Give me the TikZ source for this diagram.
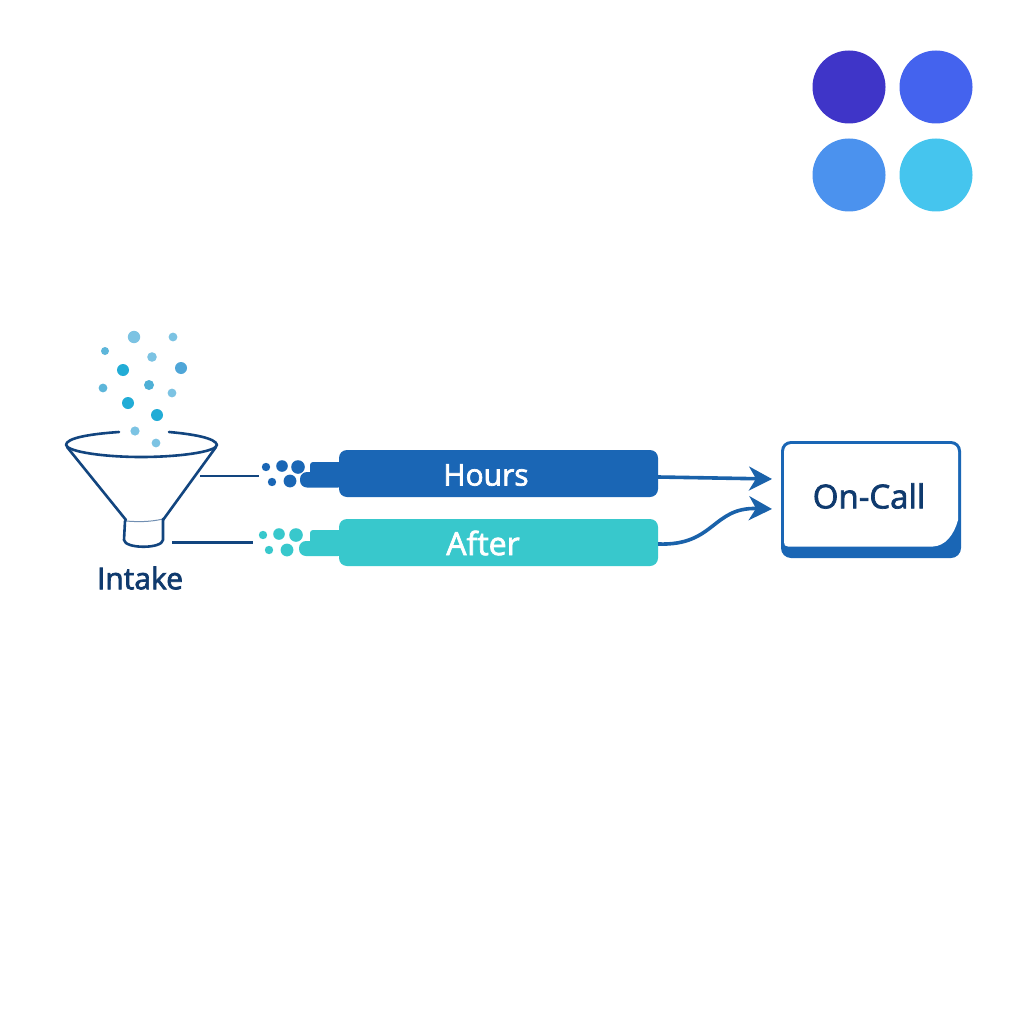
\documentclass[tikz,border=0pt]{standalone}
\usepackage{fontspec}
\setmainfont{Open Sans}
\newcommand{\medw}[1]{\special{pdf:code 2 Tr 0.7 w}#1\special{pdf:code 0 Tr}}
\usetikzlibrary{arrows.meta}
\definecolor{navy}{HTML}{12457F}
\definecolor{inknavy}{HTML}{0F3A6E}
\definecolor{barblue}{HTML}{1A66B5}
\definecolor{barteal}{HTML}{38C8CC}
\definecolor{arrowblue}{HTML}{1A62AA}
\definecolor{swA}{HTML}{3F35C8}
\definecolor{swB}{HTML}{4463EE}
\definecolor{swC}{HTML}{4B92EE}
\definecolor{swD}{HTML}{45C5EE}
\definecolor{dotA}{HTML}{7CC3E3}
\definecolor{dotB}{HTML}{22ACD6}
\definecolor{dotC}{HTML}{4FA6D8}
\definecolor{dotD}{HTML}{4FB0D6}
\tikzset{
  swatch/.style={circle,minimum size=73pt,inner sep=0pt,fill=#1},
  funnelline/.style={draw=navy,line width=2.6pt,line join=round,line cap=round},
  lead/.style={draw=navy,line width=2.4pt},
  barbox/.style={rounded corners=8pt,minimum width=319pt,minimum height=47pt,inner sep=0pt,fill=#1},
  bartext/.style={text=white,inner sep=0pt,font=\fontsize{30}{32}\selectfont},
  flow/.style={draw=arrowblue,line width=3.6pt,-{Stealth[length=23pt,width=24pt,inset=7pt]}},
  lbl/.style={text=inknavy,inner sep=0pt},
}
\newcommand{\fleckat}[4]{\fill[#4] (#1,#2) circle[radius=#3pt];}
\begin{document}
\begin{tikzpicture}[x=1pt,y=-1pt]
\useasboundingbox (0,0) rectangle (1024,1024);
\fill[white] (0,0) rectangle (1024,1024);
% swatches
\node[swatch=swA] (s1) at (849,87) {};
\node[swatch=swB] (s2) at (936,87) {};
\node[swatch=swC] (s3) at (849,175) {};
\node[swatch=swD] (s4) at (936,175) {};
% particles
\fleckat{134}{337}{6.2}{dotA}
\fleckat{173}{337}{4.4}{dotA}
\fleckat{105}{351}{4}{dotD!70!dotA}
\fleckat{152}{357}{4.8}{dotA}
\fleckat{123}{370}{6}{dotB}
\fleckat{181}{368}{6}{dotC}
\fleckat{103}{388}{4.4}{dotD!70!dotA}
\fleckat{149}{385}{5}{dotD}
\fleckat{172}{393}{4.4}{dotA}
\fleckat{128}{403}{6}{dotB}
\fleckat{157}{415}{6}{dotB}
\fleckat{135}{431}{4.6}{dotA}
\fleckat{156}{443}{4.4}{dotA}
% funnel
\draw[funnelline] (119,432) .. controls (90,434) and (66,438) .. (66,445)
   .. controls (68,452) and (105,457) .. (141,457)
   .. controls (178,457) and (216,452) .. (217,445)
   .. controls (216,438) and (192,434) .. (169,432);
\draw[funnelline] (67,447) -- (126,520);
\draw[funnelline] (216,447) -- (163,520);
\draw[draw=navy!60,line width=1pt] (126,521) .. controls (138,522) and (150,522) .. (163,519);
\draw[funnelline] (125,521) -- (124,540) .. controls (125,549) and (162,549) .. (163,540) -- (163,519);
\coordinate (funnelside) at (200,476);
\coordinate (funnelneck) at (172,542.5);
\node[lbl,font=\fontsize{30}{32}\selectfont] (intake) at (140,578) {\medw{Intake}};
% bars with stubs
\coordinate (leadA) at (259,476);
\coordinate (leadB) at (253,542.5);
\draw[lead] (funnelside) -- (leadA);
\draw[lead] (funnelneck) -- (leadB);
\fill[barblue,rounded corners=3pt] (310,462) rectangle (345,478);
\fill[barblue,rounded corners=7pt] (300,472) rectangle (345,487.5);
\foreach \x/\y/\r in {266/467/4.2,282/466/5.8,298/467/6.8,272/482/4.2,290/481/6.4}{\fill[barblue] (\x,\y) circle[radius=\r pt];}
\fill[barteal,rounded corners=3pt] (310,530) rectangle (345,546);
\fill[barteal,rounded corners=7pt] (299,541) rectangle (345,556);
\foreach \x/\y/\r in {263/535/4.2,279/534/5.8,296/535/6.8,269/550/4.2,287/550/6.4}{\fill[barteal] (\x,\y) circle[radius=\r pt];}
\node[barbox=barblue] (hours) at (498.5,473.5) {};
\node[bartext] (hourst) at (486,475) {\medw{Hours}};
\node[barbox=barteal] (after) at (498.5,542.5) {};
\node[bartext,font=\fontsize{32}{34}\selectfont] (aftert) at (483,543) {\medw{After}};
% card
\node[rounded corners=10pt,minimum width=180pt,minimum height=117pt,inner sep=0pt,fill=barblue] (card) at (871,499.5) {};
\fill[white] (792,444) -- (950,444) .. controls (955,444) and (958,447) .. (958,452) -- (958,520)
   .. controls (954,535) and (945,546) .. (933,546.5) -- (788,546.5) .. controls (785,546.5) and (784,545) .. (784,542) -- (784,452) .. controls (784,447) and (787,444) .. (792,444) -- cycle;
\node[lbl,font=\fontsize{33}{35}\selectfont] (oncall) at (869,496) {\medw{On-Call}};
% arrows
\coordinate (tipA) at (772,479);
\coordinate (tipB) at (772,509);
\draw[flow] ([yshift=-3.5pt]hours.east) -- (tipA);
\draw[flow] ([yshift=-1.5pt]after.east) .. controls (715,546) and (712,507) .. (tipB);
\end{tikzpicture}
\end{document}
